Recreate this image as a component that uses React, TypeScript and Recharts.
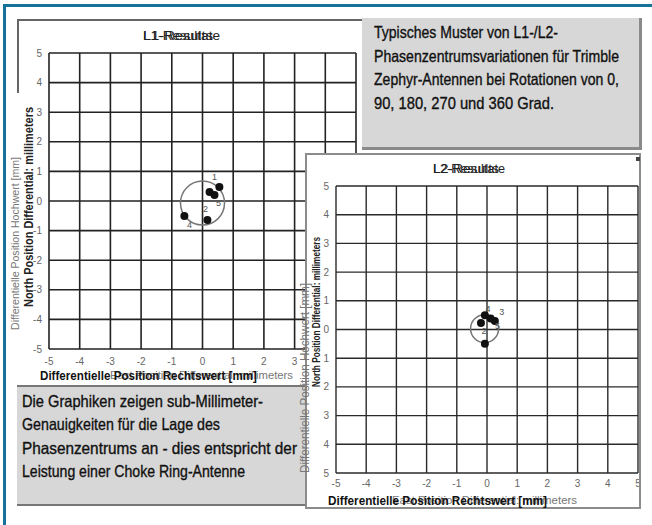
import React from 'react';
import { ScatterChart, Scatter, XAxis, YAxis, CartesianGrid, ReferenceDot } from 'recharts';

// shared axis ticks (mm)
const axisTicks = [-5, -4, -3, -2, -1, 0, 1, 2, 3, 4, 5];

// L1 results: rotation points
const l1East = [0.55, 0.23, 0.39, -0.59, 0.16];
const l1North = [0.47, 0.3, 0.2, -0.51, -0.64];
const l1Names = ['1', '', '5', '4', '2'];
const l1Circle = { x: 0, y: -0.07 };

// L2 results
const l2East = [-0.07, 0.26, 0.12, -0.2, -0.07];
const l2North = [0.5, 0.3, 0.38, 0.23, -0.5];
const l2Names = ['4', '3', '5', '2', ''];
const l2Circle = { x: -0.08, y: 0.03 };

const topNote = [
  'Typisches Muster von L1-/L2-',
  'Phasenzentrumsvariationen für Trimble',
  'Zephyr-Antennen bei Rotationen von 0,',
  '90, 180, 270 und 360 Grad.',
];
const bottomNote = [
  'Die Graphiken zeigen sub-Millimeter-',
  'Genauigkeiten für die Lage des',
  'Phasenzentrums an - dies entspricht der',
  'Leistung einer Choke Ring-Antenne',
];

// label offsets per point (px), style only
const l1LabelOffset = [[-5, -9], [0, 0], [4, 9], [5, 10], [-2, -10]];
const l2LabelOffset = [[3, -6], [7, -8], [7, 8], [3, 9], [0, 0]];

// widths the condensed (Arial Narrow-like) texts take in the scan
const topNoteWidths = [184, 245, 245, 180];
const bottomNoteWidths = [241, 198, 275, 223];

const sans = "'Liberation Sans', Arial, sans-serif";

const build = (xs: number[], ys: number[], names: string[]) =>
  xs.map((x, i) => ({ x, y: ys[i], name: names[i], i }));

const makeDot = (offsets: number[][], r: number) => (props: any) => {
  const { cx, cy, payload } = props;
  const [dx, dy] = offsets[payload.i] || [0, 0];
  return (
    <g>
      <circle cx={cx} cy={cy} r={r} fill="#111" />
      {payload.name && (
        <text x={cx + dx} y={cy + dy} fontSize={9} fill="#555" textAnchor="middle" dominantBaseline="middle" fontFamily={sans}>
          {payload.name}
        </text>
      )}
    </g>
  );
};

// squeezed text, like the narrow font of the original
const Sq = ({ x, y, w, size, weight, fill, rotate, heavy, children }: any) => (
  <text
    x={x}
    y={y}
    textLength={w}
    lengthAdjust="spacingAndGlyphs"
    fontSize={size}
    fontWeight={weight || 'normal'}
    fill={fill || '#111'}
    stroke={heavy ? fill || '#111' : undefined}
    strokeWidth={heavy ? 0.35 : undefined}
    fontFamily={sans}
    transform={rotate ? `rotate(-90 ${x} ${y})` : undefined}
  >
    {children}
  </text>
);

const tickStyle = { fontSize: 10, fill: '#666', fontFamily: sans };

export default function App() {
  const l1 = build(l1East, l1North, l1Names);
  const l2 = build(l2East, l2North, l2Names);

  return (
    <div style={{ position: 'fixed', left: 0, top: 0, width: 652, height: 525, background: '#fff', overflow: 'hidden' }}>
      {/* blue frame */}
      <div style={{ position: 'absolute', left: 3, top: 4, width: 660, height: 530, borderLeft: '3px solid #16729a', borderTop: '3px solid #16729a' }} />

      {/* L1 chart frame stubs */}
      <div style={{ position: 'absolute', left: 17, top: 19, width: 345, height: 72, borderLeft: '2px solid #666', borderTop: '2px solid #666' }} />

      {/* L1 chart */}
      <div style={{ position: 'absolute', left: 0, top: 0 }}>
        <ScatterChart width={360} height={380} margin={{ top: 53, right: 4, bottom: 0, left: 19 }}>
          <CartesianGrid stroke="#222" strokeWidth={1.6} />
          <XAxis
            type="number"
            dataKey="x"
            domain={[-5, 5]}
            ticks={axisTicks}
            axisLine={false}
            tickLine={false}
            tickSize={0}
            tickMargin={9}
            height={31}
            tick={tickStyle}
            interval={0}
          />
          <YAxis
            type="number"
            dataKey="y"
            domain={[-5, 5]}
            ticks={axisTicks}
            axisLine={false}
            tickLine={false}
            tickSize={0}
            tickMargin={7}
            width={30}
            tick={tickStyle}
            interval={0}
          />
          <ReferenceDot x={l1Circle.x} y={l1Circle.y} r={22} fill="none" stroke="#777" strokeWidth={1.5} />
          <Scatter data={l1} isAnimationActive={false} shape={makeDot(l1LabelOffset, 4)} />
        </ScatterChart>
      </div>

      {/* note boxes */}
      <div
        style={{
          position: 'absolute', left: 362, top: 18, width: 280, height: 132, background: '#d7d7d7',
          borderRight: '3px solid #8a8a8a', borderBottom: '3px solid #8a8a8a', boxSizing: 'border-box',
        }}
      />
      <div
        style={{
          position: 'absolute', left: 17, top: 385, width: 290, height: 121, background: '#d7d7d7',
          borderTop: '2px solid #777', borderBottom: '2px solid #777', boxSizing: 'border-box',
        }}
      />

      {/* L2 chart */}
      <div
        style={{
          position: 'absolute', left: 305, top: 153, width: 336, height: 356, background: '#fff',
          border: '2px solid #8c8c8c', boxSizing: 'border-box',
        }}
      />
      <div style={{ position: 'absolute', left: 307, top: 155 }}>
        <ScatterChart width={332} height={352} margin={{ top: 31, right: 1, bottom: 0, left: 0 }}>
          <CartesianGrid stroke="#2a2a2a" strokeWidth={1.4} />
          <XAxis
            type="number"
            dataKey="x"
            domain={[-5, 5]}
            ticks={axisTicks}
            axisLine={false}
            tickLine={false}
            tickSize={0}
            tickMargin={7}
            height={34}
            tick={tickStyle}
            interval={0}
          />
          <YAxis
            type="number"
            dataKey="y"
            domain={[-5, 5]}
            ticks={axisTicks}
            axisLine={false}
            tickLine={false}
            tickSize={0}
            tickMargin={7}
            width={29}
            tick={tickStyle}
            interval={0}
            tickFormatter={(v: number) => String(Math.abs(v))}
          />
          <ReferenceDot x={l2Circle.x} y={l2Circle.y} r={14} fill="none" stroke="#777" strokeWidth={1.5} />
          <Scatter data={l2} isAnimationActive={false} shape={makeDot(l2LabelOffset, 4)} />
        </ScatterChart>
      </div>
      <div style={{ position: 'absolute', left: 636, top: 157, width: 4, height: 4, background: '#444' }} />

      {/* all titles and notes, overprinted like the scan */}
      <svg width={652} height={525} style={{ position: 'absolute', left: 0, top: 0, pointerEvents: 'none' }}>
        {topNote.map((l, i) => (
          <Sq key={'t' + i} x={374} y={38 + i * 23.7} w={topNoteWidths[i]} size={16.5} heavy>{l}</Sq>
        ))}
        {bottomNote.map((l, i) => (
          <Sq key={'b' + i} x={22} y={407 + i * 23.3} w={bottomNoteWidths[i]} size={16.5} heavy>{l}</Sq>
        ))}

        {/* L1 */}
        <Sq x={143} y={40} w={77} size={13} fill="#222">L1-Resultate</Sq>
        <Sq x={143} y={40} w={70} size={13} fill="#222">L1-Results</Sq>
        <Sq x={110} y={379} w={183} size={10} fill="#777">East Position Differential: millimeters</Sq>
        <Sq x={40} y={380} w={217} size={13} weight="bold">Differentielle Position Rechtswert [mm]</Sq>
        <Sq x={19} y={330} w={173} size={11} fill="#777" rotate>Differentielle Position Hochwert [mm]</Sq>
        <Sq x={33} y={307} w={200} size={12} weight="bold" fill="#222" rotate>North Position Differential: millimeters</Sq>

        {/* L2 */}
        <Sq x={433} y={173} w={72} size={13} fill="#222">L2-Resultate</Sq>
        <Sq x={433} y={173} w={66} size={13} fill="#222">L2-Results</Sq>
        <Sq x={392} y={504} w={185} size={10} fill="#777">East Position Differential: millimeters</Sq>
        <Sq x={328} y={505} w={219} size={13} weight="bold">Differentielle Position Rechtswert [mm]</Sq>
        <Sq x={309} y={473} w={190} size={12} fill="#777" rotate>Differentielle Position Hochwert [mm]</Sq>
        <Sq x={320} y={387} w={150} size={11} weight="bold" fill="#222" rotate>North Position Differential: millimeters</Sq>
      </svg>
    </div>
  );
}
